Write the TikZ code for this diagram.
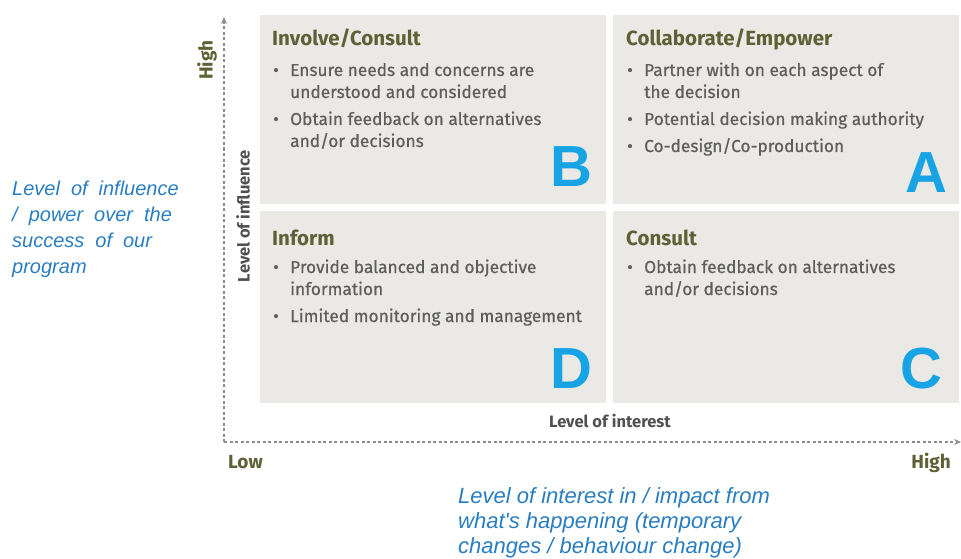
\documentclass[tikz,border=0pt]{standalone}
\usepackage{fontspec}
\setmainfont{Fira Sans}
\newfontfamily\bodyfont[FakeBold=0.6]{Fira Sans}
\newfontfamily\arialfont{Liberation Sans}
\usetikzlibrary{arrows.meta}
\definecolor{quadfill}{HTML}{EAE9E5}
\definecolor{titleolive}{HTML}{5E6035}
\definecolor{bodygray}{HTML}{5E5E5E}
\definecolor{lettblue}{HTML}{18A4E4}
\definecolor{noteblue}{HTML}{2A7DC0}
\definecolor{axisgray}{HTML}{8C8C8C}
\tikzset{>={Stealth[length=7pt,width=6pt]},
  quad/.style = {fill=quadfill,draw=none,anchor=north west,inner sep=0pt,
                 minimum width=346pt,minimum height=#1},
  quad/.default = 189pt,
  qtitle/.style = {anchor=base west,inner sep=0pt,text=titleolive,
                   font=\bfseries\fontsize{20.5}{22}\selectfont},
  qlist/.style = {anchor=base west,inner sep=0pt,text=bodygray,
                  font=\bodyfont\fontsize{17.3}{22}\selectfont},
  qletter/.style = {anchor=base east,inner sep=0pt,text=lettblue,
                    font=\arialfont\bfseries\fontsize{58}{60}\selectfont},
  axis/.style = {axisgray,line width=1.2pt,dash pattern=on 3pt off 2.5pt},
  axlabel/.style = {inner sep=0pt,text=titleolive,
                    font=\bfseries\fontsize{19}{20}\selectfont},
  axname/.style = {inner sep=0pt,text=bodygray!85!black,
                   font=\bfseries\fontsize{16.5}{18}\selectfont},
  note/.style = {anchor=base west,inner sep=0pt,text=noteblue}
}
\newcommand{\pitem}[1]{\par\hangindent=17pt\hangafter=1\makebox[17pt][l]{\textbullet}#1}
\newcommand{\plist}[1]{\vtop{\hsize=330pt\parindent=0pt\parskip=5pt\baselineskip=22pt
  \raggedright #1\par}}
\newcommand{\nlines}[2]{\vtop{\baselineskip=#1\relax #2}}

\begin{document}
\begin{tikzpicture}[x=1pt,y=-1pt]
  \useasboundingbox (0,0) rectangle (961,559);

  % the four quadrants
  \node[quad] (quadB) at (260,15) {};
  \node[quad] (quadA) at (613,15) {};
  \node[quad=192pt] (quadD) at (260,211) {};
  \node[quad=192pt] (quadC) at (613,211) {};

  % axes
  \coordinate (O) at (224,442);
  \coordinate (ytop) at (224,17);
  \coordinate (xend) at (961,442);
  \draw[axis,->] (O) -- (ytop);
  \draw[axis,->] (O) -- (xend);

  \node[qtitle] (titleB) at (272,46) {Involve/Consult};
  \node[qlist] (listB) at (273,76) {\plist{%
    \pitem{Ensure needs and concerns are\newline understood and considered}
    \pitem{Obtain feedback on alternatives\newline and/or decisions}}};
  \node[qletter] (letB) at (593,186) {B};

  \node[qtitle] (titleA) at (626,46) {Collaborate/Empower};
  \node[qlist] (listA) at (627,76) {\plist{%
    \pitem{Partner with on each aspect of\newline the decision}
    \pitem{Potential decision making authority}
    \pitem{Co-design/Co-production}}};
  \node[qletter] (letA) at (948,193) {A};

  \node[qtitle] (titleD) at (272,245) {Inform};
  \node[qlist] (listD) at (273,273) {\plist{%
    \pitem{Provide balanced and objective\newline information}
    \pitem{Limited monitoring and management}}};
  \node[qletter] (letD) at (593,388) {D};

  \node[qtitle] (titleC) at (626,245) {Consult};
  \node[qlist] (listC) at (627,273) {\plist{%
    \pitem{Obtain feedback on alternatives\newline and/or decisions}}};
  \node[qletter] (letC) at (943,388) {C};

  % axis labels
  \node[axlabel,rotate=90] (yhigh) at (207,60) {High};
  \node[axname,rotate=90] (yname) at (243,216) {Level of influence};
  \node[axname] (xname) at (610,421) {Level of interest};
  \node[axlabel,anchor=base west] (xlow) at (228,468) {Low};
  \node[axlabel,anchor=base east] (xhigh) at (951,468) {High};

  % notes
  \node[note,font=\arialfont\itshape\fontsize{20}{26}\selectfont] (ynote) at (12,195)
    {\spaceskip=11pt\nlines{26pt}{\hbox{Level of influence}\hbox{/ power over the}
                   \hbox{success of our}\hbox{program}}};
  \node[note,font=\arialfont\itshape\fontsize{22}{25}\selectfont] (xnote) at (458,503)
    {\nlines{25pt}{\hbox{Level of interest in / impact from}
                   \hbox{what's happening  (temporary}
                   \hbox{changes / behaviour change)}}};
\end{tikzpicture}
\end{document}
